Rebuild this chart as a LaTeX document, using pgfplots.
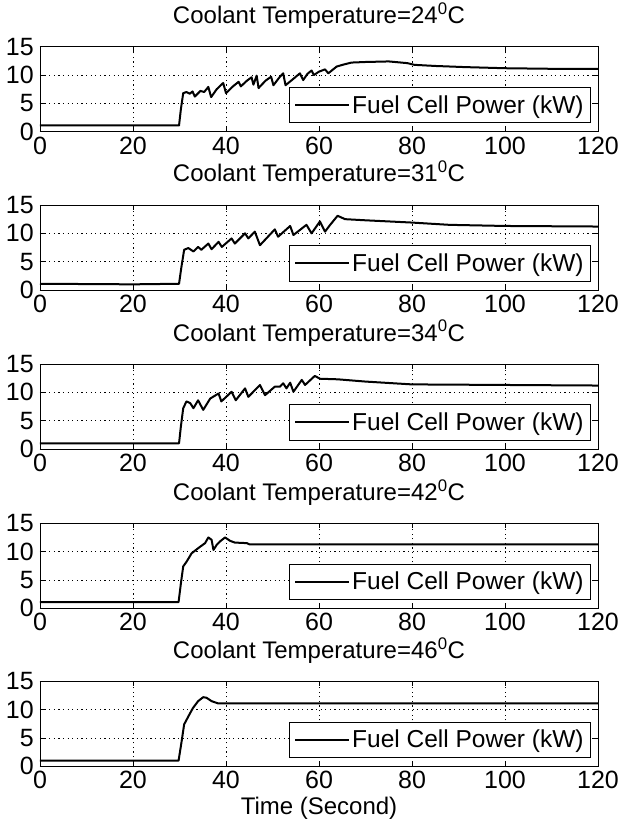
\documentclass[border=0pt]{standalone}
\usepackage{fontspec}
\setmainfont{Liberation Sans}
\usepackage{pgfplots}
\pgfplotsset{compat=1.18}
\usepackage{pgfplotstable}

\pgfplotstableread{
x y
0 1.1
29.9 1.1
30.3 4.0
30.8 6.8
31.5 7.0
32.2 6.7
32.8 7.1
33.3 6.2
34.5 7.2
35.3 7.0
36.2 7.9
36.8 6.1
38.0 7.5
39.4 8.6
40.0 6.8
41.5 8.0
42.7 8.8
43.2 8.0
44.5 9.0
45.5 9.6
45.9 8.3
46.6 9.9
47.0 7.7
48.5 9.0
49.7 9.7
50.2 8.2
51.5 9.6
52.3 10.3
52.8 8.2
54.0 9.0
55.9 10.3
56.6 9.1
57.5 10.2
58.4 10.8
58.9 10.0
60.0 10.6
61.3 11.0
62.0 10.3
63.8 11.5
65.5 11.9
67.0 12.2
70.0 12.3
75.0 12.4
79.0 12.1
80.5 11.8
85 11.6
91.4 11.4
100 11.2
110 11.1
120 11.1
}\tA

\pgfplotstableread{
x y
0 1.1
20 1.0
29.9 1.1
30.4 4.0
31.0 7.1
31.9 7.4
33.0 6.8
34.0 7.6
34.7 7.1
36.2 8.2
36.9 7.2
38.4 8.5
39.1 7.6
41.2 9.1
41.9 8.2
44.1 10.0
44.8 9.1
46.2 10.3
47.3 7.9
50.5 10.7
51.2 9.4
53.8 11.3
54.5 9.7
57.3 11.5
58.4 10.0
60.2 12.1
61.3 10.3
62.4 11.5
64.0 13.1
65.6 12.5
70 12.3
80 11.9
88 11.5
100 11.3
120 11.2
}\tB

\pgfplotstableread{
x y
0 1.0
29.9 1.0
30.3 4.0
30.8 7.2
31.5 8.4
32.3 8.1
33.0 7.2
34.0 8.6
35.1 6.9
36.6 8.9
38.4 9.8
39.0 8.4
41.2 10.1
42.1 8.6
44.1 10.7
44.8 9.2
47.3 11.3
48.4 9.5
50.5 11.0
51.6 11.0
52.3 11.6
53.0 10.7
53.8 11.7
54.5 10.1
56.3 12.2
57.0 11.3
59.1 12.9
60.2 12.4
64 12.3
70 11.9
80 11.4
100 11.3
120 11.2
}\tC

\pgfplotstableread{
x y
0 1.1
29.8 1.1
30.3 4.4
30.8 7.4
31.5 8.2
32.6 9.7
34.0 10.6
35.5 11.5
36.2 12.5
36.9 12.1
37.3 10.3
38.0 11.2
38.7 11.8
39.8 12.5
40.9 11.9
41.9 11.6
44.5 11.5
45 11.3
120 11.3
}\tD

\pgfplotstableread{
x y
0 1.0
29.8 1.0
30.4 4.1
31.0 7.4
31.9 8.8
32.9 10.3
34.0 11.5
35.1 12.2
35.8 12.1
36.9 11.5
38.3 11.1
120 11.1
}\tE

\pgfplotsset{
  panel/.style={
    scale only axis,
    width=558pt, height=85pt,
    xmin=0, xmax=120, ymin=0, ymax=15,
    xtick={0,20,...,120}, ytick={0,5,10,15},
    tick align=inside, major tick length=5pt,
    grid=major,
    major grid style={black, line width=0.7pt, dash pattern=on 1.2pt off 3.4pt},
    axis line style={line width=0.8pt},
    every tick/.style={black, line width=0.8pt},
    /pgf/number format/assume math mode=true,
    tick label style={font=\fontsize{25}{25}\selectfont},
    xticklabel style={inner sep=0pt, yshift=-5pt},
    yticklabel style={inner sep=0pt, xshift=-6pt},
    title style={font=\fontsize{24}{26}\selectfont, at={(0.5,1)}, anchor=base, yshift=17pt},
    legend style={at={(1,0)}, anchor=south east, xshift=-7pt, yshift=8.5pt,
      draw=black, line width=0.8pt, inner xsep=5pt, inner ysep=6pt,
      font=\fontsize{24.5}{26}\selectfont},
    legend image code/.code={\draw[line width=2pt] (0pt,0pt) -- (54pt,0pt);},
    legend cell align=left,
  },
  series/.style={black, line width=2pt, line join=round, no marks}
}

\begin{document}
\begin{tikzpicture}
\useasboundingbox (-40pt,46.7pt) rectangle (579pt,-779.3pt);
\begin{axis}[panel, at={(0pt,0pt)}, anchor=north west, title={Coolant Temperature=24\textsuperscript{0}C}]
\addplot[series] table[x=x,y=y] {\tA};
\addlegendentry{Fuel Cell Power (kW)}
\end{axis}
\begin{axis}[panel, at={(0pt,-158.3pt)}, anchor=north west, title={Coolant Temperature=31\textsuperscript{0}C}]
\addplot[series] table[x=x,y=y] {\tB};
\addlegendentry{Fuel Cell Power (kW)}
\end{axis}
\begin{axis}[panel, at={(0pt,-317.3pt)}, anchor=north west, title={Coolant Temperature=34\textsuperscript{0}C}]
\addplot[series] table[x=x,y=y] {\tC};
\addlegendentry{Fuel Cell Power (kW)}
\end{axis}
\begin{axis}[panel, at={(0pt,-476.6pt)}, anchor=north west, title={Coolant Temperature=42\textsuperscript{0}C}]
\addplot[series] table[x=x,y=y] {\tD};
\addlegendentry{Fuel Cell Power (kW)}
\end{axis}
\begin{axis}[panel, at={(0pt,-634.6pt)}, anchor=north west, title={Coolant Temperature=46\textsuperscript{0}C},
  xlabel={Time (Second)}, xlabel style={font=\fontsize{24}{26}\selectfont, at={(0.5,0)}, anchor=north, inner sep=0pt, yshift=-31pt}]
\addplot[series] table[x=x,y=y] {\tE};
\addlegendentry{Fuel Cell Power (kW)}
\end{axis}
\end{tikzpicture}
\end{document}
